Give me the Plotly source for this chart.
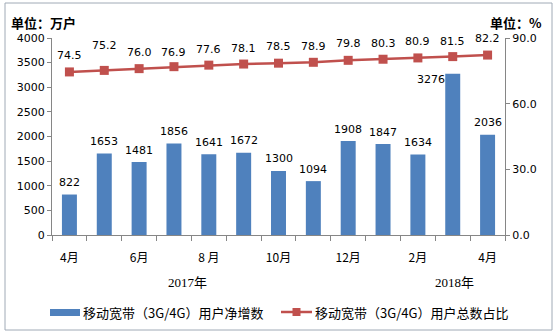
import plotly.graph_objects as go

months = ["4月", "5月", "6月", "7月", "8月", "9月", "10月", "11月", "12月", "1月", "2月", "3月", "4月"]
tick_labels = ["4月", "", "6月", "", "8 月", "", "10月", "", "12月", "", "2月", "", "4月"]
net_adds = [822, 1653, 1481, 1856, 1641, 1672, 1300, 1094, 1908, 1847, 1634, 3276, 2036]
share_pct = [74.5, 75.2, 76.0, 76.9, 77.6, 78.1, 78.5, 78.9, 79.8, 80.3, 80.9, 81.5, 82.2]
years = ["2017年", "2018年"]
bar_name = "移动宽带（3G/4G）用户净增数"
line_name = "移动宽带（3G/4G）用户总数占比"

# label style offsets (pixels)
line_label_yshift = [16, 25, 16, 14, 16, 16, 17, 16, 17, 16, 16, 15, 17]
bar_label_shift = [(0, 12)] * 11 + [(-22, -6), (0, 12)]

BLUE = "#4F81BD"
RED = "#C0504D"
AXIS = "#868686"
NUM_FONT = "DejaVu Sans"
CJK = "Noto Sans CJK SC"

x = list(range(len(months)))

fig = go.Figure()
fig.add_trace(go.Bar(x=x, y=net_adds, width=0.43, marker=dict(color=BLUE, line=dict(width=0)),
                     name=bar_name, showlegend=False, hoverinfo="y"))
fig.add_trace(go.Scatter(x=x, y=share_pct, yaxis="y2", mode="lines+markers", name=line_name,
                         line=dict(color=RED, width=2.5),
                         marker=dict(symbol="square", size=9, color=RED),
                         showlegend=False))

anns = []
for i, v in enumerate(net_adds):
    dx, dy = bar_label_shift[i]
    anns.append(dict(x=i, y=v, xref="x", yref="y", text=str(v), showarrow=False,
                     xshift=dx, yshift=dy, yanchor="middle",
                     font=dict(family=NUM_FONT, size=11, color="#000")))
for i, v in enumerate(share_pct):
    anns.append(dict(x=i, y=v, xref="x", yref="y2", text=f"{v:.1f}", showarrow=False,
                     yshift=line_label_yshift[i], yanchor="middle",
                     font=dict(family=NUM_FONT, size=11, color="#000")))
# year labels
for yr, xc in zip(years, [3.4, 11.05]):
    anns.append(dict(x=xc, y=-0.239, xref="x", yref="paper", text=yr, showarrow=False,
                     yanchor="middle", font=dict(family="Liberation Serif, " + CJK, size=13, color="#000")))
# unit titles
anns.append(dict(x=-0.094, y=1.081, xref="paper", yref="paper", text="<b>单位：万户</b>", showarrow=False,
                 xanchor="left", yanchor="middle", font=dict(family=CJK, size=13, color="#000")))
anns.append(dict(x=1.086, y=1.081, xref="paper", yref="paper", text="<b>单位：%</b>", showarrow=False,
                 xanchor="right", yanchor="middle", font=dict(family=CJK, size=13, color="#000")))

# manual legend
W = 453.0
H = 197.0
def px(xp):
    return (xp - 52) / W
def py(yp):
    return (235 - yp) / H

shapes = []
shapes.append(dict(type="rect", xref="paper", yref="paper", x0=px(5), x1=px(552), y0=py(330), y1=py(3),
                   line=dict(color="#A0AAB6", width=1), fillcolor="rgba(0,0,0,0)", layer="below"))
shapes.append(dict(type="rect", xref="paper", yref="paper", x0=px(50), x1=px(80), y0=py(316), y1=py(309),
                   line=dict(width=0), fillcolor=BLUE))
shapes.append(dict(type="line", xref="paper", yref="paper", x0=px(281), x1=px(312), y0=py(312), y1=py(312),
                   line=dict(color=RED, width=2.5)))
shapes.append(dict(type="rect", xref="paper", yref="paper", x0=px(292.5), x1=px(300.5), y0=py(316), y1=py(308),
                   line=dict(width=0), fillcolor=RED))
anns.append(dict(x=px(81), y=py(312), xref="paper", yref="paper", text=bar_name, showarrow=False,
                 xanchor="left", yanchor="middle", font=dict(family=CJK, size=13, color="#000")))
anns.append(dict(x=px(313), y=py(312), xref="paper", yref="paper", text=line_name, showarrow=False,
                 xanchor="left", yanchor="middle", font=dict(family=CJK, size=13, color="#000")))

fig.update_layout(
    width=557, height=335,
    margin=dict(l=52, r=52, t=38, b=100),
    paper_bgcolor="white", plot_bgcolor="white",
    bargap=0.5,
    xaxis=dict(range=[-0.5, 12.5], tickmode="array", tickvals=x, ticktext=tick_labels,
               ticks="", showline=True, linecolor=AXIS, linewidth=1, showgrid=False, zeroline=False,
               tickfont=dict(family=CJK, size=12, color="#000"), ticklabelstandoff=12,
               minor=dict(tickmode="linear", tick0=-0.5, dtick=1, ticks="outside", ticklen=5,
                          tickcolor=AXIS, showgrid=False)),
    yaxis=dict(range=[0, 4000], dtick=500, ticks="outside", ticklen=4, tickcolor=AXIS,
               showline=True, linecolor=AXIS, linewidth=1, showgrid=False, zeroline=False,
               tickfont=dict(family=NUM_FONT, size=11, color="#000")),
    yaxis2=dict(range=[0, 90], tickvals=[0, 30, 60, 90], tickformat=".1f", overlaying="y", side="right",
                ticks="outside", ticklen=4, tickcolor=AXIS, showline=True, linecolor=AXIS, linewidth=1,
                showgrid=False, zeroline=False,
                tickfont=dict(family=NUM_FONT, size=11, color="#000")),
    annotations=anns,
    shapes=shapes,
)

fig.write_html("out.html")
